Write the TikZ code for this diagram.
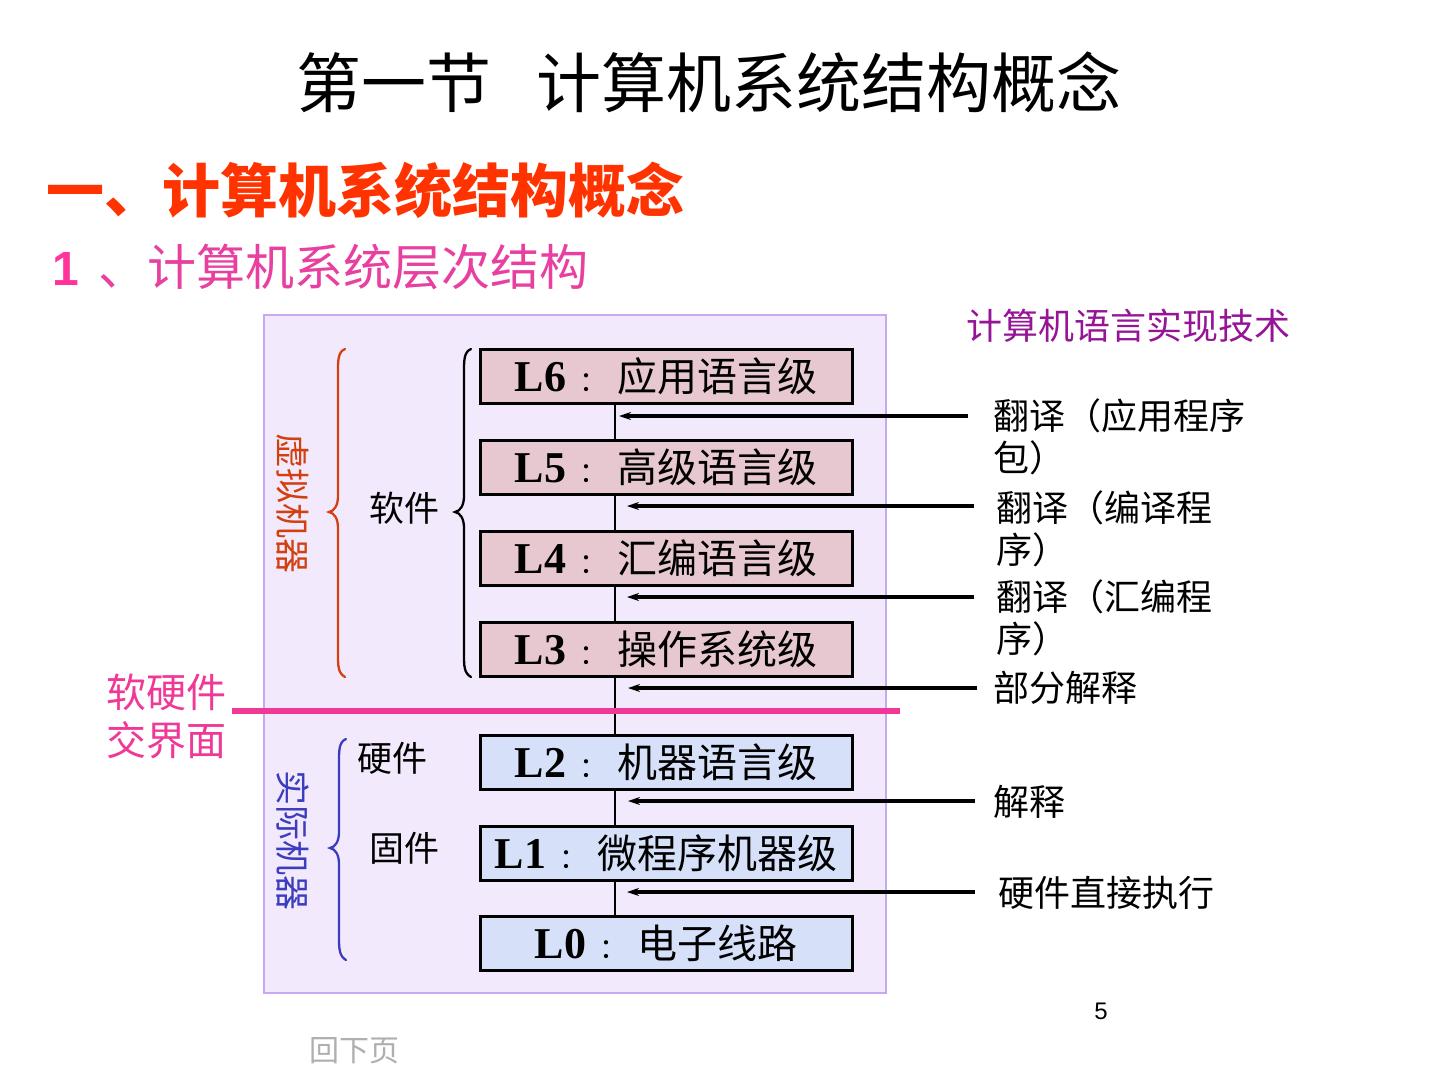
\documentclass[tikz,border=0pt]{standalone}
\usepackage{fontspec}
\setmainfont{Liberation Serif}
\newfontfamily\cjk{Noto Sans CJK SC}
\newfontfamily\lsans{Liberation Sans}
\usetikzlibrary{arrows.meta}
\definecolor{bgl}{RGB}{242,234,252}
\definecolor{bgb}{RGB}{200,168,240}
\definecolor{pinkf}{RGB}{232,200,208}
\definecolor{bluef}{RGB}{214,224,248}
\definecolor{headred}{RGB}{255,51,0}
\definecolor{subpink}{RGB}{232,64,160}
\definecolor{onepink}{RGB}{255,51,153}
\definecolor{sep}{RGB}{240,56,150}
\definecolor{virt}{RGB}{210,64,16}
\definecolor{real}{RGB}{60,60,190}
\definecolor{tech}{RGB}{150,20,150}
\definecolor{navg}{RGB}{175,175,175}
\newcommand\lvtext[2]{{\fontsize{44}{44}\selectfont\bfseries #1}\hspace{13pt}{\cjk\fontsize{28}{28}\selectfont ：}\hspace{10pt}{\cjk\fontsize{40}{40}\selectfont #2}}
\begin{document}
\begin{tikzpicture}[x=1pt,y=-1pt,
  lvbox/.style={draw=black,line width=3pt,minimum width=372pt,minimum height=54pt,inner sep=0pt},
  pinkbox/.style={lvbox,fill=pinkf},
  bluebox/.style={lvbox,fill=bluef},
  link/.style={line width=1.8pt,black},
  arr/.style={line width=3.2pt,-{Stealth[length=12pt,width=8pt]}},
  lab/.style={anchor=west,inner sep=0pt,font=\cjk\fontsize{36}{42}\selectfont,align=left},
  brc/.style={line width=2.3pt,line cap=round}]
\useasboundingbox (0,0) rectangle (1440,1080);
\fill[white] (0,0) rectangle (1440,1080);
% titles
\node (title) at (709,82) {\cjk\fontsize{65}{65}\selectfont 第一节\hspace{45pt}计算机系统结构概念};
\node[anchor=west,inner sep=0pt,text=headred] (h1) at (46,190) {\cjk\bfseries\fontsize{58}{58}\selectfont 一、计算机系统结构概念};
\node[anchor=west,inner sep=0pt] (h2) at (52,267) {{\lsans\bfseries\fontsize{48}{48}\selectfont\color{onepink}1}\hspace{20pt}{\cjk\fontsize{49}{49}\selectfont\color{subpink}、计算机系统层次结构}};
% frame
\node[draw=bgb,fill=bgl,line width=2pt,minimum width=622pt,minimum height=678pt,inner sep=0pt] (frame) at (575,654) {};
% level boxes
\node[pinkbox] (L6) at (666,376.5) {\lvtext{L6}{应用语言级}};
\node[pinkbox] (L5) at (666,467) {\lvtext{L5}{高级语言级}};
\node[pinkbox] (L4) at (666,558) {\lvtext{L4}{汇编语言级}};
\node[pinkbox] (L3) at (666,649) {\lvtext{L3}{操作系统级}};
\node[bluebox] (L2) at (666,762.5) {\lvtext{L2}{机器语言级}};
\node[bluebox] (L1) at (666,853) {\lvtext{L1}{微程序机器级}};
\node[bluebox] (L0) at (666,943) {\lvtext{L0}{电子线路}};
% vertical links
\foreach \a/\b in {L6/L5,L5/L4,L4/L3,L3/L2,L2/L1,L1/L0}
  \draw[link] ([xshift=-51pt]\a.south) -- ([xshift=-51pt]\b.north);
% separator
\coordinate (sepL) at (232,711);
\coordinate (sepR) at (900,711);
\draw[sep,line width=6pt] (sepL) -- (sepR);
\node[anchor=west,inner sep=0pt,text=sep,align=left,font=\cjk\fontsize{40}{48}\selectfont] (iface) at (106,716) {软硬件\\交界面};
% right labels
\node[anchor=west,inner sep=0pt,text=tech,font=\cjk\fontsize{36}{36}\selectfont] (tech) at (966,326) {计算机语言实现技术};
\node[lab,anchor=north west] (t1) at (993,398) {翻译（应用程序\\包）};
\node[lab,anchor=north west] (t2) at (996,490) {翻译（编译程\\序）};
\node[lab,anchor=north west] (t3) at (996,579) {翻译（汇编程\\序）};
\node[lab] (t4) at (993,688) {部分解释};
\node[lab] (t5) at (993,802) {解释};
\node[lab] (t6) at (998,893) {硬件直接执行};
% arrows
\coordinate (s1) at (968,416); \coordinate (e1) at (619,416);
\coordinate (s2) at (974,506); \coordinate (e2) at (627,506);
\coordinate (s3) at (974,597); \coordinate (e3) at (627,597);
\coordinate (s4) at (977,688); \coordinate (e4) at (628,688);
\coordinate (s5) at (975,801); \coordinate (e5) at (628,801);
\coordinate (s6) at (975,892); \coordinate (e6) at (627,892);
\foreach \i in {1,...,6} \draw[arr] (s\i) -- (e\i);
% braces
\draw[brc,virt] (345,349) .. controls (338,352) and (338,360) .. (338,372)
  -- (338,496) .. controls (338,506) and (334,511) .. (329,512)
  .. controls (334,513) and (338,518) .. (338,528)
  -- (338,654) .. controls (338,666) and (338,673) .. (345,677);
\draw[brc,black] (471,349) .. controls (464,352) and (464,360) .. (464,372)
  -- (464,496) .. controls (464,506) and (460,511) .. (455,512)
  .. controls (460,513) and (464,518) .. (464,528)
  -- (464,654) .. controls (464,666) and (464,673) .. (471,677);
\draw[brc,real] (346,739) .. controls (339,742) and (339,750) .. (339,762)
  -- (339,832) .. controls (339,842) and (335,847) .. (330,848)
  .. controls (335,849) and (339,854) .. (339,864)
  -- (339,936) .. controls (339,948) and (339,956) .. (346,960);
% brace labels
\node[rotate=-90,text=virt,inner sep=0pt,font=\cjk\fontsize{35}{35}\selectfont] (vm) at (293,503) {虚拟机器};
\node[rotate=-90,text=real,inner sep=0pt,font=\cjk\fontsize{35}{35}\selectfont] (rm) at (293,840) {实际机器};
\node[anchor=west,inner sep=0pt,font=\cjk\fontsize{35}{35}\selectfont] (sw) at (369,508) {软件};
\node[anchor=west,inner sep=0pt,font=\cjk\fontsize{35}{35}\selectfont] (hw) at (357,758) {硬件};
\node[anchor=west,inner sep=0pt,font=\cjk\fontsize{35}{35}\selectfont] (fw) at (369,848) {固件};
% footer
\node[inner sep=0pt,font=\lsans\fontsize{24}{24}\selectfont] (pg) at (1101,1011) {5};
\node[inner sep=0pt,text=navg,font=\cjk\fontsize{30}{30}\selectfont] (nav) at (354,1051) {回下页};
\end{tikzpicture}
\end{document}
